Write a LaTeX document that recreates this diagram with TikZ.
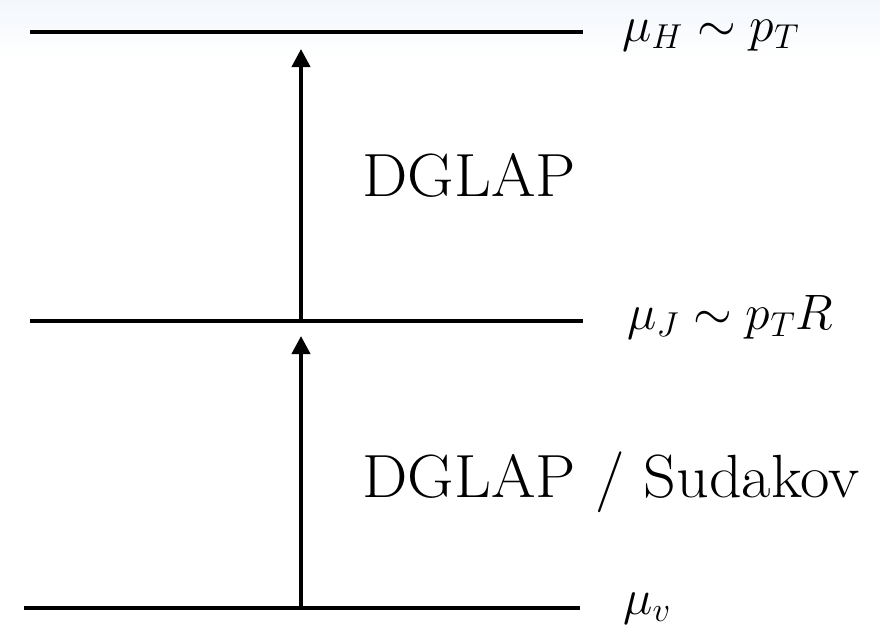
\documentclass[tikz,border=0pt]{standalone}
\usetikzlibrary{arrows.meta}
\begin{document}
\begin{tikzpicture}[x=0.5pt,y=-0.5pt,
  level/.style={line width=2pt},
  flow/.style={line width=2pt,-{Triangle[length=9pt,width=9pt]}},
  scalelabel/.style={anchor=base west,inner sep=0pt,font=\fontsize{25}{30}\selectfont},
  regime/.style={anchor=base west,inner sep=0pt,font=\fontsize{30.5}{36}\selectfont}]
\useasboundingbox (0,0) rectangle (880,629);
\shade[top color={rgb,255:red,243;green,247;blue,252},bottom color=white,draw=none] (0,0) rectangle (880,60);
% level lines
\coordinate (h1) at (30,32);  \coordinate (h2) at (583,32);
\coordinate (j1) at (30,321); \coordinate (j2) at (583,321);
\coordinate (v1) at (24,608); \coordinate (v2) at (580,608);
\draw[level] (h1) -- (h2);
\draw[level] (j1) -- (j2);
\draw[level] (v1) -- (v2);
% arrows
\coordinate (a1s) at (301,321); \coordinate (a1e) at (301,49);
\coordinate (a2s) at (301,608); \coordinate (a2e) at (301,336);
\draw[flow] (a1s) -- (a1e);
\draw[flow] (a2s) -- (a2e);
% labels
\node[scalelabel] (lh) at (622,41) {$\mu_H \sim p_T$};
\node[scalelabel] (lj) at (627,329) {$\mu_J \sim p_T R$};
\node[scalelabel] (lv) at (623,614) {$\mu_v$};
\node[regime] (d1) at (362,196) {\scalebox{1.05}[1]{DGLAP}};
\node[regime] (d2) at (362,497) {\scalebox{1.05}[1]{DGLAP / Sudakov}};
\end{tikzpicture}
\end{document}
